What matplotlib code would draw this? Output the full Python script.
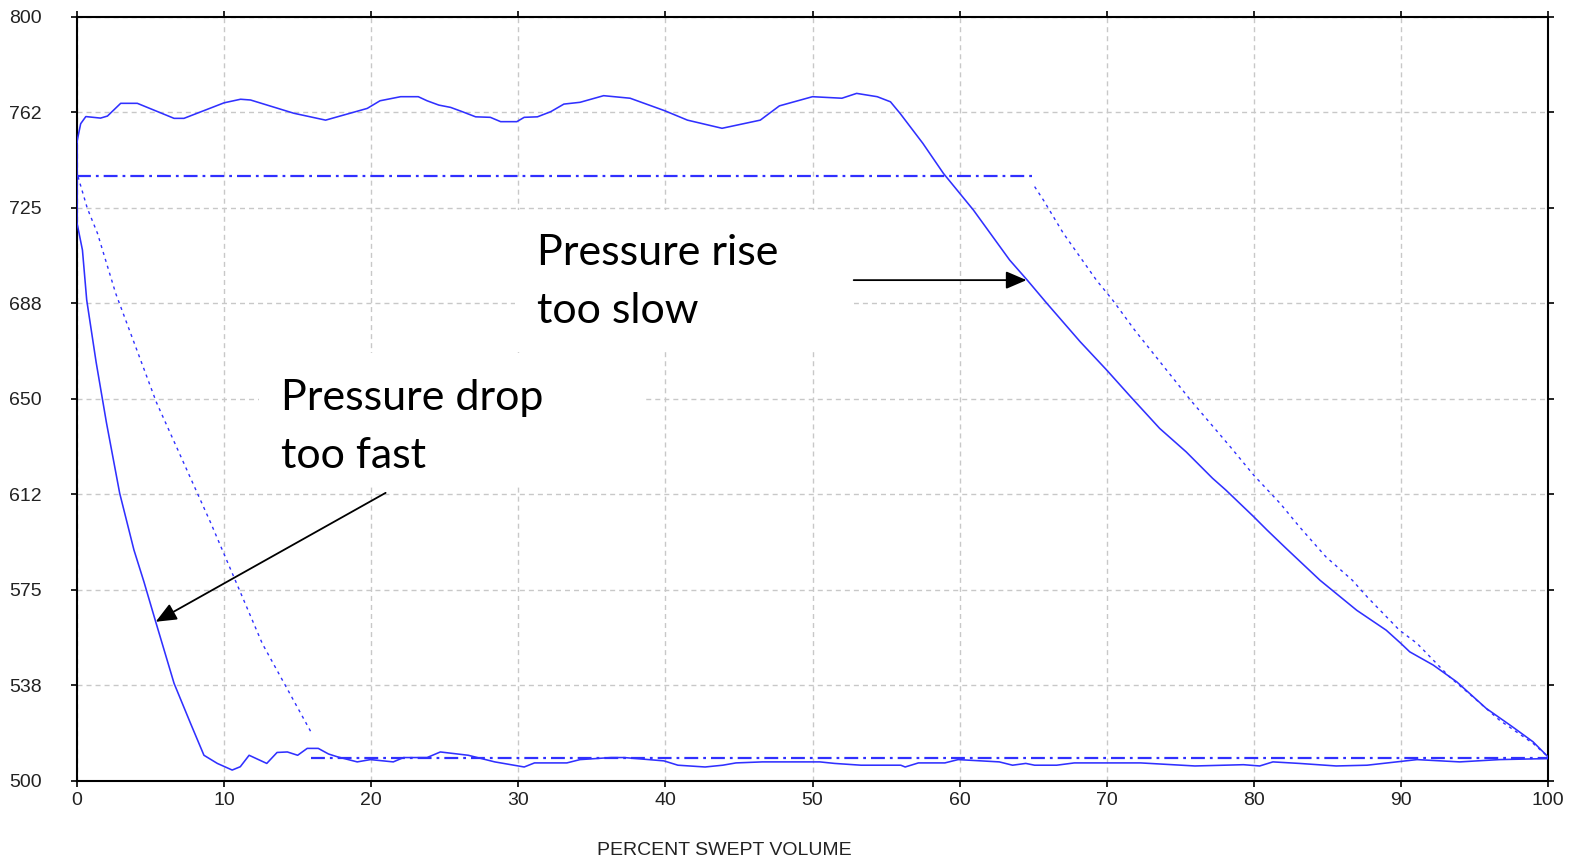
import matplotlib
matplotlib.use("Agg")
import matplotlib.pyplot as plt
from matplotlib.patches import Rectangle

# ---------------- data ----------------
# measured pressure loop (solid)
loop_x = [0.0, 0.25, 0.6, 1.6, 2.07, 2.97, 4.1, 6.6, 7.27, 10.0, 11.12, 11.8, 14.74, 16.9,
          19.73, 20.6, 22.0, 23.2, 23.8, 24.6, 25.4, 26.2, 27.1, 28.1, 28.8, 29.9, 30.4,
          31.3, 32.2, 33.1, 34.2, 35.8, 37.6, 39.95, 41.5, 43.85, 46.45, 47.75, 50.0,
          52.0, 53.0, 54.4, 55.3, 55.96, 57.5, 58.9, 60.94, 63.4, 64.6, 65.9, 68.2, 70.0,
          71.6, 73.6, 75.4, 77.2, 78.1, 80.0, 80.9, 82.2, 84.5, 87.0, 89.0, 90.0, 90.6,
          92.2, 93.8, 95.8, 97.6, 98.98, 100.0,
          100.0, 96.7, 94.0, 91.1, 89.7, 87.7, 85.6, 83.1, 81.3, 80.4, 79.3, 76.0, 72.3,
          71.5, 67.8, 66.6, 65.1, 64.5, 63.6, 62.7, 59.9, 59.0, 57.2, 56.3, 56.0, 53.3,
          51.5, 50.5, 46.6, 44.8, 43.9, 42.7, 40.85, 39.9, 37.2, 36.3, 34.2, 33.3, 31.1,
          30.4, 28.4, 26.6, 24.7, 23.8, 22.2, 21.5, 19.95, 19.05, 17.7, 17.1, 16.4, 15.65,
          15.0, 14.3, 13.6, 12.9, 11.7, 11.1, 10.55, 9.54, 8.63, 7.72, 6.6, 5.35, 4.55,
          3.87, 2.9, 2.0, 1.3, 0.66, 0.37, 0.0, 0.0]
loop_y = [751, 758, 760.8, 760.2, 761, 766, 766, 760.1, 760.1, 766.2, 767.6, 767.3, 762.1,
          759.4, 764, 767, 768.6, 768.6, 767, 765.3, 764.4, 762.7, 760.7, 760.5, 758.8,
          758.8, 760.5, 760.7, 762.7, 765.7, 766.4, 769, 768, 763.1, 759.4, 756.2, 759.4,
          765, 768.6, 768, 769.9, 768.6, 766.6, 762, 750.3, 738.5, 724.1, 704.5, 696.6,
          687.7, 672.4, 661.3, 651, 638.4, 629.2, 618.8, 614.2, 603.7, 598.5, 591.3,
          578.8, 567, 559.2, 554, 550.7, 545.5, 538.9, 528.5, 521.2, 515.4, 509.5,
          508.8, 508.4, 507.5, 508.4, 507.5, 506.2, 505.9, 506.9, 507.5, 505.9, 506.4,
          505.9, 507.1, 507.1, 507.1, 506.2, 506.2, 506.9, 506.2, 507.5, 508.4, 507.1,
          507.1, 505.5, 506.2, 506.2, 506.9, 507.5, 507.5, 507.1, 506.2, 505.5, 506.2,
          507.9, 509.2, 509.2, 508.4, 507.1, 507.1, 505.5, 507.5, 510.1, 511.4, 509.2,
          509.2, 507.5, 508.4, 507.5, 509.5, 510.6, 512.8, 512.8, 510.1, 511.4, 511.2,
          506.9, 510.1, 505.6, 504.3, 506.9, 510.1, 522.6, 538.3, 562.5, 578.2, 590.7,
          613, 640.7, 664.4, 688.8, 708.4, 719, 751]

# ideal cycle: discharge / suction pressure lines (dash-dot)
discharge_x = [0.0, 65.0]
discharge_y = [737.5, 737.5]
suction_x = [15.9, 100.0]
suction_y = [509.0, 509.0]

# ideal re-expansion (dotted)
expansion_x = [0.07, 0.7, 1.39, 2.63, 5.4, 9.1, 12.6, 15.9]
expansion_y = [737.2, 724.8, 715, 691.4, 648.6, 601.2, 553.9, 519.3]

# ideal compression (dotted)
compression_x = [65.1, 65.7, 67.05, 69.3, 70.4, 71.9, 75.7, 78.4, 80.0, 81.8, 83.1, 84.9,
                 86.7, 87.7, 89.9, 91.1, 93.3, 94.9, 96.7, 99.0, 100.0]
compression_y = [733.3, 728, 715, 696.6, 688.8, 677, 649.5, 631.2, 620, 608.9, 599.8, 588,
                 578.8, 572.3, 559.2, 554, 540.9, 533, 523.9, 514.7, 509.5]

x_ticks = [0, 10, 20, 30, 40, 50, 60, 70, 80, 90, 100]
y_ticks = [500, 537.5, 575, 612.5, 650, 687.5, 725, 762.5, 800]
y_tick_labels = ["500", "538", "575", "612", "650", "688", "725", "762", "800"]
x_label = "PERCENT SWEPT VOLUME"

note_rise = ["Pressure rise", "too slow"]
note_drop = ["Pressure drop", "too fast"]

# ---------------- style ----------------
plt.rcParams['lines.scale_dashes'] = False
BLUE = '#3030ff'
tick_font = ['Liberation Sans Narrow', 'Liberation Sans', 'DejaVu Sans']
note_font = ['Lato', 'DejaVu Sans']

fig = plt.figure(figsize=(15.77, 8.61), dpi=100)
ax = fig.add_axes([77 / 1577, 1 - 781 / 861, (1548 - 77) / 1577, (781 - 16.7) / 861])

ax.plot(loop_x, loop_y, color=BLUE, lw=1.15, solid_joinstyle='round', zorder=3)
ax.plot(discharge_x, discharge_y, color=BLUE, lw=1.6, linestyle=(0, (10, 3.6, 2, 3.6)), zorder=3)
ax.plot(suction_x, suction_y, color=BLUE, lw=1.6, linestyle=(0, (10, 3.6, 2, 3.6)), zorder=3)
ax.plot(expansion_x, expansion_y, color=BLUE, lw=1.0, linestyle=(0, (2.2, 3.0)), zorder=3)
ax.plot(compression_x, compression_y, color=BLUE, lw=1.0, linestyle=(0, (2.2, 3.0)), zorder=3)

ax.set_xlim(0, 100)
ax.set_ylim(500, 800)
ax.set_xticks(x_ticks)
ax.set_xticklabels([str(v) for v in x_ticks])
ax.set_yticks(y_ticks)
ax.set_yticklabels(y_tick_labels)
ax.set_axisbelow(True)
ax.grid(True, color='#c8c8c8', linestyle=(0, (3.6, 2.9)), linewidth=1.0)

for s in ax.spines.values():
    s.set_linewidth(1.5)
    s.set_color('black')
ax.tick_params(axis='both', which='both', direction='out', length=4.5, width=1.2,
               top=True, right=True, labeltop=False, labelright=False, colors='black')
ax.tick_params(axis='y', pad=21)
ax.tick_params(axis='x', pad=3.5)
for lab in ax.get_xticklabels() + ax.get_yticklabels():
    lab.set_family(tick_font)
    lab.set_fontsize(14)
    lab.set_color('#222222')

fig.text(724.6 / 1577, 1 - 855 / 861, x_label, ha='center', va='baseline',
         family=tick_font, fontsize=14, color='#222222')

# white text boxes
ax.add_patch(Rectangle((29.8, 669.1), 52.8 - 29.8, 724.1 - 669.1, facecolor='white',
                       edgecolor='none', zorder=1))
ax.add_patch(Rectangle((12.35, 615.4), 38.6 - 12.35, 668.0 - 615.4, facecolor='white',
                       edgecolor='none', zorder=1))

ax.text(31.28, 702.5, note_rise[0], family=note_font, fontsize=31, va='baseline', ha='left', zorder=4)
ax.text(31.28, 679.9, note_rise[1], family=note_font, fontsize=31, va='baseline', ha='left', zorder=4)
ax.text(13.89, 645.6, note_drop[0], family=note_font, fontsize=31, va='baseline', ha='left', zorder=4)
ax.text(13.89, 622.9, note_drop[1], family=note_font, fontsize=31, va='baseline', ha='left', zorder=4)

arrow_props = dict(arrowstyle='-|>,head_length=0.42,head_width=0.18', color='black',
                   lw=1.3, mutation_scale=30, shrinkA=0, shrinkB=0)
ax.annotate('', xy=(64.55, 696.6), xytext=(52.8, 696.6), arrowprops=arrow_props, zorder=5)
ax.annotate('', xy=(5.35, 562.5), xytext=(20.98, 613.1), arrowprops=arrow_props, zorder=5)

fig.savefig('out.png', dpi=100)
